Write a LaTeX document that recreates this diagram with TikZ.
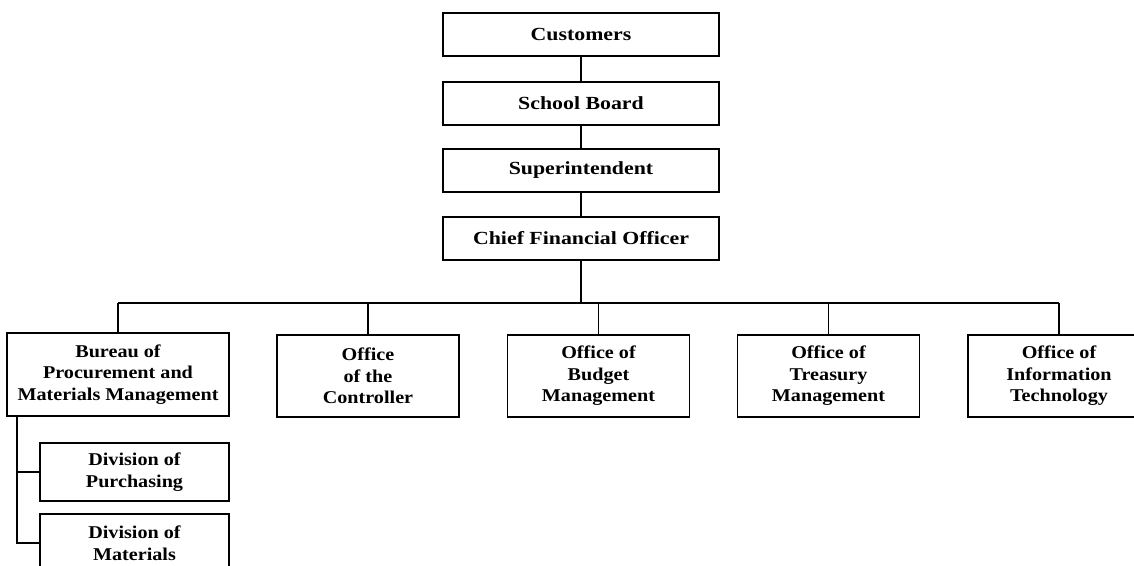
\documentclass[tikz,border=0pt]{standalone}
\usepackage{fontspec}
\setmainfont{Liberation Serif}
\newfontfamily\lowfont[FakeStretch=1.12]{Liberation Serif}
\newfontfamily\topfont[FakeStretch=1.18]{Liberation Serif}
\begin{document}
\begin{tikzpicture}[x=1pt,y=-1pt,
  box/.style={draw,line width=1.3pt,rectangle,inner sep=0pt,align=center,
    font=\lowfont\fontsize{18}{21.5}\selectfont\bfseries},
  topbox/.style={box,minimum width=276,minimum height=43,
    font=\topfont\fontsize{18.5}{22}\selectfont\bfseries},
  unit/.style={box,minimum width=182,minimum height=82},
  division/.style={box,minimum width=189,minimum height=58},
  link/.style={line width=1.2pt}]
\useasboundingbox (0,0) rectangle (1134,565);
\clip (0,0) rectangle (1134,565);

% top of the chain
\node[topbox] (cust)  at (581,34.5)  {Customers};
\node[topbox] (board) at (581,103.5) {School Board};
\node[topbox] (sup)   at (581,170.5) {Superintendent};
\node[topbox] (cfo)   at (581,238.5) {Chief Financial Officer};

% offices under the CFO
\node[box,minimum width=222,minimum height=83] (bureau) at (118,374.5)
  {Bureau of\\Procurement and\\Materials Management};
\node[unit] (ctrl)   at (368,376)   {Office\\of the\\Controller};
\node[unit] (budget) at (598.5,376) {Office of\\Budget\\Management};
\node[unit] (treas)  at (828.5,376) {Office of\\Treasury\\Management};
\node[unit] (it)     at (1059,376)  {Office of\\Information\\Technology};

% divisions of the bureau
\node[division] (purch) at (134.5,472) {Division of\\Purchasing};
\node[division] (mat)   at (134.5,543) {Division of\\Materials};

% vertical chain
\draw[link] (cust) -- (board);
\draw[link] (board) -- (sup);
\draw[link] (sup) -- (cfo);

% bus under the CFO
\coordinate (bus) at (0,303);
\draw[link] (cfo.south) -- (cfo.south |- bus);
\draw[link] (bureau.north |- bus) -- (it.north |- bus);
\foreach \n in {bureau,ctrl,budget,treas,it}
  \draw[link] (\n.north) -- (\n.north |- bus);

% spine down the left side of the bureau
\coordinate (spine) at (17,0);
\draw[link] (spine |- bureau.south) |- (mat.west);
\draw[link] (spine |- purch.west) -- (purch.west);
\end{tikzpicture}
\end{document}
